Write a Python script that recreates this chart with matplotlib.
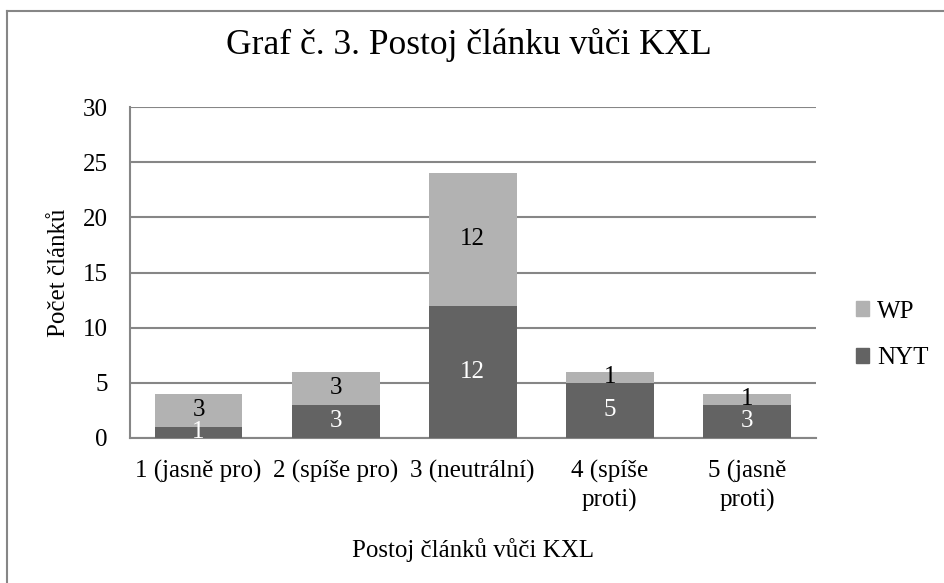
import matplotlib
matplotlib.use("Agg")
import matplotlib.pyplot as plt
from matplotlib.lines import Line2D
from matplotlib.patches import Patch
import numpy as np

plt.rcParams['font.family'] = ['Liberation Serif', 'DejaVu Serif']

categories = ["1 (jasně pro)", "2 (spíše pro)", "3 (neutrální)", "4 (spíše\nproti)", "5 (jasně\nproti)"]
nyt = [1, 3, 12, 5, 3]
wp = [3, 3, 12, 1, 1]

c_nyt = "#636363"
c_wp = "#b2b2b2"
grid_c = "#868686"

fig = plt.figure(figsize=(9.44, 5.83), dpi=100)
W, H = 944, 583
ax = fig.add_axes([130/W, (H-438)/H, (815.5-130)/W, (438-107)/H])

x = np.arange(len(categories))
bw = 0.64
ax.bar(x, nyt, bw, color=c_nyt, label="NYT", zorder=3)
ax.bar(x, wp, bw, bottom=nyt, color=c_wp, label="WP", zorder=3)

for i in range(len(x)):
    ax.text(x[i], nyt[i]/2, str(nyt[i]), ha='center', va='center', color='white', fontsize=18, zorder=4)
    ax.text(x[i], nyt[i] + wp[i]/2, str(wp[i]), ha='center', va='center', color='black', fontsize=18, zorder=4)

ax.set_xlim(-0.5, len(x)-0.5)
ax.set_ylim(0, 30)
ax.set_yticks(range(0, 31, 5))
ax.yaxis.grid(True, color=grid_c, linewidth=1.5, zorder=0)
ax.set_axisbelow(True)
for s in ['top', 'right']:
    ax.spines[s].set_visible(False)
for s in ['left', 'bottom']:
    ax.spines[s].set_color(grid_c)
    ax.spines[s].set_linewidth(1.5)
ax.tick_params(axis='both', length=0, labelsize=18)
ax.tick_params(axis='x', pad=16)
ax.tick_params(axis='y', pad=16)
ax.set_xticks(x)
ax.set_xticklabels(categories, linespacing=1.3)
ax.set_ylabel("Počet článků", fontsize=18, labelpad=9)
ax.set_xlabel("Postoj článků vůči KXL", fontsize=18, labelpad=19)

fig.text(469/W, 1-45/H, "Graf č. 3. Postoj článku vůči KXL", ha='center', va='center', fontsize=25.5)

handles = [Patch(color=c_wp, label="WP"), Patch(color=c_nyt, label="NYT")]
fig.legend(handles=handles, loc='center left', bbox_to_anchor=(833/W, 1-335/H), frameon=False,
           fontsize=18, handlelength=0.55, handleheight=0.55, handletextpad=0.3, labelspacing=1.0)

# outer border
fig.add_artist(Line2D([7/W, 7/W], [0, 1-11/H], transform=fig.transFigure, color=grid_c, linewidth=1.5))
fig.add_artist(Line2D([7/W, 1], [1-11/H, 1-11/H], transform=fig.transFigure, color=grid_c, linewidth=1.5))

fig.savefig("out.png", dpi=100)
